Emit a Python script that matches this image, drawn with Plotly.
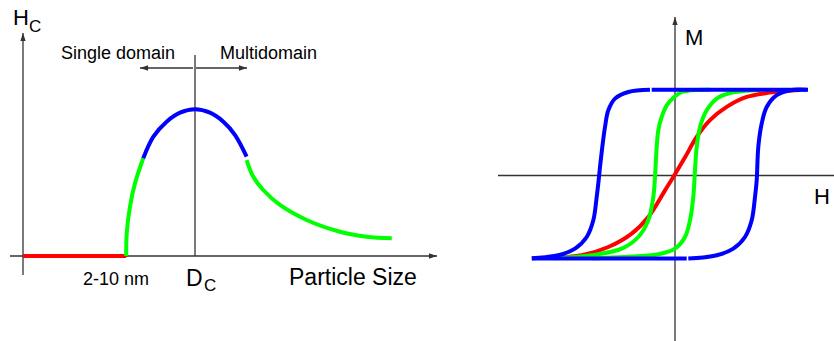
import plotly.graph_objects as go

# ---------------- data ----------------
# Left panel: coercivity H_C vs particle size (size scaled so D_C = 1, H_C scaled so its peak = 1)
size_superpara = [0.0, 0.6]
hc_superpara = [0.0, 0.0]
size_sd_rise = [0.6, 0.603, 0.622, 0.651, 0.699]
hc_sd_rise = [0.0, 0.154, 0.335, 0.494, 0.665]
size_peak = [0.699, 0.758, 0.835, 0.913, 1.0, 1.087, 1.165, 1.233, 1.30]
hc_peak = [0.665, 0.812, 0.914, 0.975, 0.998, 0.975, 0.914, 0.823, 0.676]
size_md = [1.30, 1.339, 1.397, 1.494, 1.649, 1.843, 1.998, 2.144]
hc_md = [0.653, 0.539, 0.449, 0.347, 0.245, 0.165, 0.131, 0.120]
d_c = 1.0

# Right panel: hysteresis loops M(H), M scaled to saturation = 1
red_h = [-1.233, -0.933, -0.667, -0.433, -0.267, -0.10, 0.0, 0.10, 0.217, 0.35, 0.517, 0.717, 0.917, 1.083, 1.25]
red_m = [-0.993, -0.961, -0.863, -0.704, -0.507, -0.191, 0.0, 0.20, 0.441, 0.640, 0.797, 0.915, 0.962, 0.982, 0.997]

green_up_h = [0.35, 0.15, 0.067, -0.01, -0.083, -0.133, -0.167, -0.183, -0.20, -0.217, -0.267, -0.367, -0.533, -0.833, -1.10, -1.2]
green_up_m = [1.0, 0.994, 0.974, 0.911, 0.816, 0.678, 0.520, 0.322, -0.033, -0.270, -0.546, -0.744, -0.882, -0.961, -0.988, -0.995]
green_lo_h = [-0.833, -0.50, -0.167, 0.0, 0.10, 0.15, 0.183, 0.20, 0.217, 0.25, 0.317, 0.417, 0.55, 0.68, 0.85]
green_lo_m = [-0.995, -0.981, -0.949, -0.882, -0.744, -0.546, -0.270, 0.046, 0.322, 0.559, 0.757, 0.896, 0.962, 0.986, 0.998]

blue_top_h = [-0.233, 1.33]
blue_top_m = [1.0, 1.0]
blue_up_h = [-0.25, -0.467, -0.60, -0.667, -0.70, -0.727, -0.75, -0.76, -0.783, -0.817, -0.883, -1.0, -1.167, -1.433]
blue_up_m = [1.0, 0.974, 0.896, 0.757, 0.559, 0.322, 0.085, -0.033, -0.270, -0.546, -0.744, -0.882, -0.961, -0.995]
blue_bot_h = [-1.43, 0.117]
blue_bot_m = [-1.0, -1.0]
blue_lo_h = [0.133, 0.417, 0.583, 0.70, 0.767, 0.80, 0.817, 0.833, 0.867, 0.917, 1.017, 1.15, 1.317]
blue_lo_m = [-1.0, -0.961, -0.882, -0.744, -0.546, -0.270, -0.072, 0.322, 0.60, 0.796, 0.936, 0.995, 1.0]

# ---------------- figure ----------------
W, H = 834, 341
RED, GREEN, BLUE = "#ff0000", "#00ff00", "#0000ff"
AX = "#333333"
FONT = "Arial, Liberation Sans, sans-serif"

fig = go.Figure()

def curve(x, y, color, xa="x", ya="y"):
    fig.add_trace(go.Scatter(x=x, y=y, mode="lines", xaxis=xa, yaxis=ya,
                             line=dict(color=color, width=4, shape="spline", smoothing=1.0),
                             hoverinfo="skip", showlegend=False))

curve(size_superpara, hc_superpara, RED)
curve(size_sd_rise, hc_sd_rise, GREEN)
curve(size_peak, hc_peak, BLUE)
curve(size_md, hc_md, GREEN)

curve(red_h, red_m, RED, "x2", "y2")
curve(green_up_h, green_up_m, GREEN, "x2", "y2")
curve(green_lo_h, green_lo_m, GREEN, "x2", "y2")
curve(blue_top_h, blue_top_m, BLUE, "x2", "y2")
curve(blue_up_h, blue_up_m, BLUE, "x2", "y2")
curve(blue_bot_h, blue_bot_m, BLUE, "x2", "y2")
curve(blue_lo_h, blue_lo_m, BLUE, "x2", "y2")

# pixel mapping of the two panels (layout)
L_X0, L_SX, L_Y0, L_SY = 23, 172, 256, 147      # left origin px and px per unit
R_X0, R_SX, R_Y0, R_SY = 675, 100, 174.2, 84.4  # right origin px and px per unit
L_RIGHT, R_LEFT = 450, 460

axis_common = dict(visible=False, showgrid=False, zeroline=False, fixedrange=True)
fig.update_layout(
    width=W, height=H, autosize=False,
    margin=dict(l=0, r=0, t=0, b=0, pad=0),
    paper_bgcolor="white", plot_bgcolor="white",
    xaxis=dict(domain=[0, L_RIGHT / W], range=[(0 - L_X0) / L_SX, (L_RIGHT - L_X0) / L_SX], **axis_common),
    yaxis=dict(domain=[0, 1], range=[(L_Y0 - H) / L_SY, L_Y0 / L_SY], **axis_common),
    xaxis2=dict(domain=[R_LEFT / W, 1], range=[(R_LEFT - R_X0) / R_SX, (W - R_X0) / R_SX], anchor="y2", **axis_common),
    yaxis2=dict(domain=[0, 1], range=[(R_Y0 - H) / R_SY, R_Y0 / R_SY], anchor="x2", **axis_common),
    font=dict(family=FONT, color="black"),
    showlegend=False,
)

def seg(xa, ya, p0, p1):
    fig.add_shape(type="line", xref=xa, yref=ya, x0=p0[0], y0=p0[1], x1=p1[0], y1=p1[1],
                  line=dict(color=AX, width=1.3), layer="below")

def arrow(xa, ya, tip, tail, angle):
    seg(xa, ya, tail, tip)
    fig.add_trace(go.Scatter(x=[tip[0]], y=[tip[1]], mode="markers", xaxis=xa, yaxis=ya,
                             marker=dict(symbol="arrow", size=8.5, angle=angle, color=AX,
                                         line=dict(width=0)),
                             hoverinfo="skip", showlegend=False))

# left axes
arrow("x", "y", (0, (L_Y0 - 33) / L_SY), (0, (L_Y0 - 275) / L_SY), 0)
arrow("x", "y", ((437 - L_X0) / L_SX, 0), ((10 - L_X0) / L_SX, 0), 90)
seg("x", "y", (d_c, 0), (d_c, (L_Y0 - 55) / L_SY))
arrow("x", "y", ((140 - L_X0) / L_SX, (L_Y0 - 68) / L_SY), ((193 - L_X0) / L_SX, (L_Y0 - 68) / L_SY), -90)
arrow("x", "y", ((247 - L_X0) / L_SX, (L_Y0 - 68) / L_SY), ((196 - L_X0) / L_SX, (L_Y0 - 68) / L_SY), 90)

# right axes
arrow("x2", "y2", (0, (R_Y0 - 17) / R_SY), (0, (R_Y0 - 341) / R_SY), 0)
seg("x2", "y2", ((498 - R_X0) / R_SX, (R_Y0 - 175.5) / R_SY), ((834 - R_X0) / R_SX, (R_Y0 - 175.5) / R_SY))

def label(txt, px, py, size):
    fig.add_annotation(x=px / W, y=1 - py / H, xref="paper", yref="paper", text=txt,
                       showarrow=False, xanchor="center", yanchor="middle",
                       font=dict(size=size, family=FONT, color="black"))

label("H", 20.5, 18, 22)
label("C", 35, 26, 17)
label("Single domain", 117.5, 53, 18)
label("Multidomain", 268.5, 53, 18)
label("2-10 nm", 115.5, 279, 18)
label("D", 194.5, 278, 23)
label("C", 209.5, 285, 17)
label("Particle Size", 353, 277, 23)
label("M", 694, 37, 22)
label("H", 822, 196.5, 22)

fig.write_html("out.html", config={"displayModeBar": False},
               post_script="document.body.style.margin='0';")
